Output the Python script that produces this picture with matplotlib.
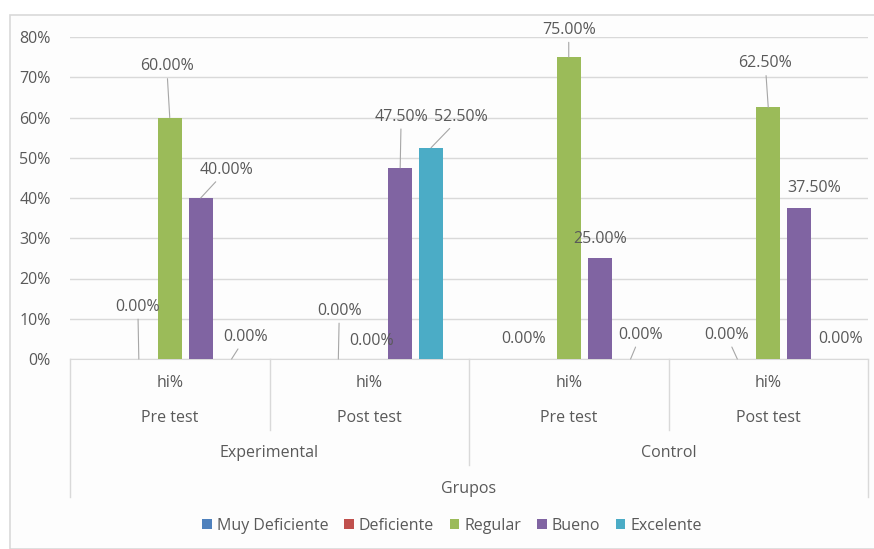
import matplotlib.pyplot as plt
import matplotlib.transforms as mtransforms
from matplotlib.patches import Rectangle

plt.rcParams['font.family'] = ['Open Sans', 'DejaVu Sans']

# datos
series = ["Muy Deficiente", "Deficiente", "Regular", "Bueno", "Excelente"]
fases = ["Pre test", "Post test", "Pre test", "Post test"]
grupos = ["Experimental", "Control"]
muy_deficiente = [0.0, 0.0, 0.0, 0.0]
deficiente = [0.0, 0.0, 0.0, 0.0]
regular = [0.60, 0.0, 0.75, 0.625]
bueno = [0.40, 0.475, 0.25, 0.375]
excelente = [0.0, 0.525, 0.0, 0.0]

colores = ["#4F81BD", "#C0504D", "#9BBB59", "#8064A2", "#4BACC6"]
gris = "#595959"
fs = 11.5

# posicion de etiquetas (pixeles respecto al tope de la barra), leader line si/no
etiquetas = {
    1: [(-1, 52, True), (1, 48, True), (-14, 20, False), (-11, 24, True)],
    2: [(-3, 51, True), (2, 18, False), (0, 27, True), (-3, 44, True)],
    3: [(26, 28, True), (1, 51, True), (0, 19, False), (15, 20, False)],
    4: [(14, 22, True), (30, 31, True), (10, 24, True), (10, 20, False)],
}

fig = plt.figure(figsize=(8.74, 5.49), dpi=100)
fig.patch.set_facecolor("white")
fig.patches.append(Rectangle((10 / 874, 0), 1, (549 - 15) / 549, transform=fig.transFigure,
                             facecolor="#fdfdfd", edgecolor="#d9d9d9", lw=1.2, zorder=-10))

ax = fig.add_axes([70 / 874, (549 - 359) / 549, 798 / 874, 322 / 549])
ax.set_facecolor("none")

valores = [muy_deficiente, deficiente, regular, bueno, excelente]
step = 0.155
ancho = 0.12
for s, vals in enumerate(valores):
    xs = [g + (s - 2) * step for g in range(4)]
    ax.bar(xs, vals, width=ancho, color=colores[s], label=series[s], zorder=3)
    if s in etiquetas:
        for g, (dx, dy, leader) in enumerate(etiquetas[s]):
            props = None
            if leader:
                props = dict(arrowstyle="-", color="#a6a6a6", lw=0.8, shrinkA=1, shrinkB=0)
            ax.annotate(f"{vals[g] * 100:.2f}%", (xs[g], vals[g]), xytext=(dx, dy),
                        textcoords="offset pixels", ha="center", va="center",
                        fontsize=fs, color=gris, arrowprops=props, zorder=5,
                        annotation_clip=False)

ax.set_xlim(-0.5, 3.5)
ax.set_ylim(0, 0.8)
ax.set_yticks([i / 10 for i in range(9)])
ax.set_yticklabels([f"{i * 10}%" for i in range(9)])
ax.tick_params(axis="y", length=0, labelsize=fs, labelcolor=gris, pad=14)
ax.set_xticks([])
ax.grid(axis="y", color="#d9d9d9", lw=1, zorder=0)
for sp in ["top", "right", "left"]:
    ax.spines[sp].set_visible(False)
ax.spines["bottom"].set_color("#d9d9d9")

# eje de categorias multinivel
tr = mtransforms.blended_transform_factory(ax.transData, fig.transFigure)


def fy(py):
    return (549 - py) / 549


for g in range(4):
    ax.text(g, fy(383), "hi%", transform=tr, ha="center", va="center", fontsize=fs, color=gris)
    ax.text(g, fy(418), fases[g], transform=tr, ha="center", va="center", fontsize=fs, color=gris)
for k, nom in enumerate(grupos):
    ax.text(0.5 + 2 * k, fy(453), nom, transform=tr, ha="center", va="center", fontsize=fs, color=gris)
ax.text(1.5, fy(489), "Grupos", transform=tr, ha="center", va="center", fontsize=fs, color=gris)

lineas = [(-0.5, 497), (0.5, 430), (1.5, 465), (2.5, 430), (3.5, 497)]
for x, py in lineas:
    ax.plot([x, x], [fy(359), fy(py)], transform=tr, color="#d9d9d9", lw=1, clip_on=False)

fig.legend(loc="center", bbox_to_anchor=(452 / 874, fy(526)), ncol=5, frameon=False,
           handlelength=0.6, handleheight=0.6, handletextpad=0.3, columnspacing=1.0,
           fontsize=fs, labelcolor=gris)

fig.savefig("out.png", dpi=100)
